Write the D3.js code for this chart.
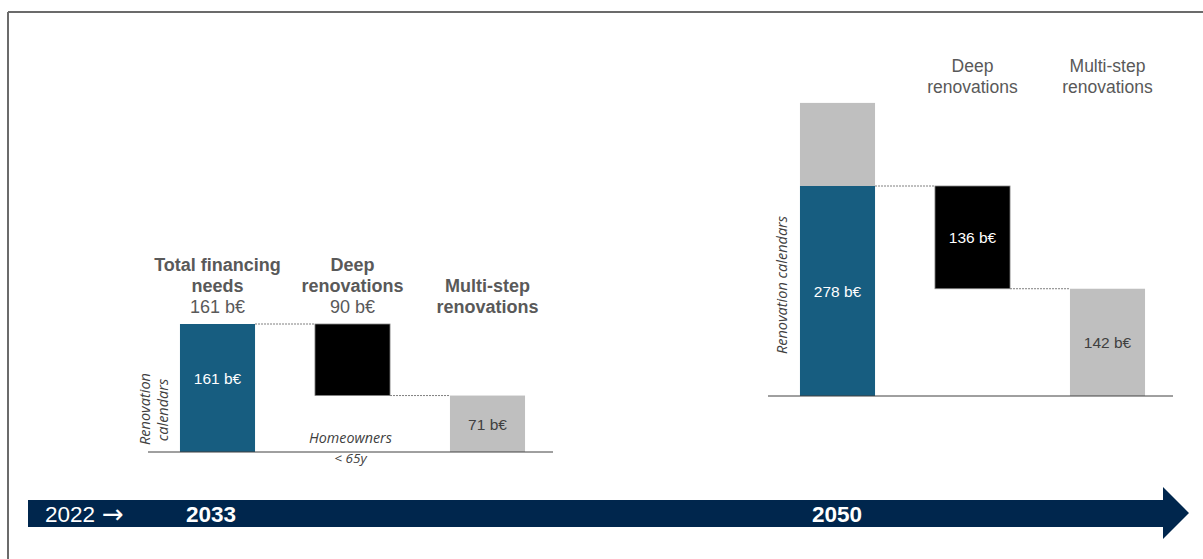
<!DOCTYPE html>
<html>
<head>
<meta charset="utf-8">
<script src="https://cdn.jsdelivr.net/npm/d3@7"></script>
<style>
  body { margin: 0; background: #fff; }
  svg { display: block; font-family: "Liberation Sans", Arial, sans-serif; }
  .ital { font-family: "Open Sans", sans-serif; font-style: italic; }
</style>
</head>
<body>
<svg id="chart" width="1203" height="559"></svg>
<script>
// data
var steps = ["total", "deep", "multi"];
var headers2033 = [["Total financing", "needs", "161 b€"], ["Deep", "renovations", "90 b€"], ["Multi-step", "renovations"]];
var headers2050 = [[], ["Deep", "renovations"], ["Multi-step", "renovations"]];
var values2033 = [161, 90, 71];
var values2050 = [278, 136, 142];
var extraTop2050 = 110; // grey block above the 2050 total, no label
var years = ["2022", "2033", "2050"];

var blue = "#175d80", grey = "#bfbfbf", navy = "#00264d", txt = "#595959";

var svg = d3.select("#chart");

// frame
svg.append("line").attr("x1", 8).attr("x2", 1203).attr("y1", 12).attr("y2", 12)
  .attr("stroke", "#6b6b6b").attr("stroke-width", 2);
svg.append("line").attr("x1", 8).attr("x2", 8).attr("y1", 12).attr("y2", 559)
  .attr("stroke", "#6b6b6b").attr("stroke-width", 2);

function waterfall(opts) {
  var vals = opts.values;
  var total = vals[0];
  var x = d3.scaleBand().domain(steps).range(opts.xr).paddingInner(0.444).paddingOuter(0.222);
  var y = d3.scaleLinear().domain([0, total]).range(opts.yr);
  var g = svg.append("g");

  // start/end of each step of the waterfall
  var segs = [
    { k: "total", lo: 0, hi: total, fill: blue, col: "#fff", v: vals[0] },
    { k: "deep", lo: total - vals[1], hi: total, fill: "#000", col: "#fff", v: vals[1] },
    { k: "multi", lo: 0, hi: vals[2], fill: grey, col: "#404040", v: vals[2] }
  ];

  if (opts.extra) {
    g.append("rect")
      .attr("x", x("total")).attr("width", x.bandwidth())
      .attr("y", y(total + opts.extra)).attr("height", y(total) - y(total + opts.extra))
      .attr("fill", grey);
  }

  g.selectAll("rect.bar").data(segs).enter().append("rect")
    .attr("class", "bar")
    .attr("x", function(d) { return x(d.k); })
    .attr("width", x.bandwidth())
    .attr("y", function(d) { return y(d.hi); })
    .attr("height", function(d) { return y(d.lo) - y(d.hi); })
    .attr("fill", function(d) { return d.fill; })
    .attr("stroke", function(d) { return d.k == "deep" ? "#888" : "none"; })
    .attr("stroke-width", 0.8);

  // connectors
  var conn = [[segs[0], segs[1], total], [segs[1], segs[2], total - vals[1]]];
  g.selectAll("line.conn").data(conn).enter().append("line")
    .attr("x1", function(d) { return x(d[0].k) + x.bandwidth(); })
    .attr("x2", function(d) { return x(d[1].k); })
    .attr("y1", function(d) { return y(d[2]); })
    .attr("y2", function(d) { return y(d[2]); })
    .attr("stroke", "#7f7f7f").attr("stroke-dasharray", "2,1");

  // base line
  g.append("line")
    .attr("x1", opts.xr[0] - 2).attr("x2", opts.xr[1] - 2)
    .attr("y1", y(0)).attr("y2", y(0))
    .attr("stroke", "#404040").attr("stroke-width", 1);

  // labels in bars
  g.selectAll("text.val").data(segs.filter(function(d) { return opts.inside.indexOf(d.k) >= 0; }))
    .enter().append("text")
    .attr("x", function(d) { return x(d.k) + x.bandwidth() / 2; })
    .attr("y", function(d) {
      var m = (y(d.lo) + y(d.hi)) / 2;
      return m + 6 + (d.k == "total" ? opts.totalShift : 0);
    })
    .attr("text-anchor", "middle")
    .attr("font-size", 15.5)
    .attr("fill", function(d) { return d.col; })
    .text(function(d) { return d.v + " b€"; });

  // headers
  opts.headers.forEach(function(lines, i) {
    var t = g.append("text")
      .attr("text-anchor", "middle")
      .attr("fill", txt)
      .attr("font-size", opts.hSize);
    lines.forEach(function(l, j) {
      var isVal = l.indexOf("b€") > 0;
      t.append("tspan")
        .attr("x", x(steps[i]) + x.bandwidth() / 2)
        .attr("y", opts.hTop[i] + j * 21)
        .attr("font-weight", opts.bold && !isVal ? "bold" : "normal")
        .text(l);
    });
  });
  return { x: x, y: y, g: g };
}

var left = waterfall({
  values: values2033, xr: [150, 555], yr: [452, 324],
  headers: headers2033, hTop: [271, 271, 292], hSize: 18, bold: true,
  inside: ["total", "multi"], totalShift: -10
});

var right = waterfall({
  values: values2050, xr: [770, 1175], yr: [396, 186], extra: extraTop2050,
  headers: headers2050, hTop: [72, 72, 72], hSize: 17.5, bold: false,
  inside: ["total", "deep", "multi"], totalShift: 0
});

// rotated side labels
var grey2 = "#404040";
svg.append("text").attr("class", "ital")
  .attr("transform", "translate(150,409) rotate(-90)")
  .attr("text-anchor", "middle").attr("font-size", 14.5).attr("fill", grey2)
  .text("Renovation");
svg.append("text").attr("class", "ital")
  .attr("transform", "translate(168,410) rotate(-90)")
  .attr("text-anchor", "middle").attr("font-size", 14.5).attr("fill", grey2)
  .text("calendars");
svg.append("text").attr("class", "ital")
  .attr("transform", "translate(787,285) rotate(-90)")
  .attr("text-anchor", "middle").attr("font-size", 14.5).attr("fill", grey2)
  .text("Renovation calendars");

var hx = left.x("deep") + left.x.bandwidth() / 2 - 2;
svg.append("text").attr("class", "ital").attr("x", hx).attr("y", 443)
  .attr("text-anchor", "middle").attr("font-size", 14.3).attr("fill", grey2).text("Homeowners");
svg.append("text").attr("class", "ital").attr("x", hx).attr("y", 463)
  .attr("text-anchor", "middle").attr("font-size", 13.5).attr("fill", grey2).text("< 65y");

// timeline arrow
var arrow = d3.path();
arrow.moveTo(28, 500);
arrow.lineTo(1163, 500);
arrow.lineTo(1163, 487);
arrow.lineTo(1189, 513);
arrow.lineTo(1163, 539);
arrow.lineTo(1163, 527);
arrow.lineTo(28, 527);
arrow.closePath();
svg.append("path").attr("d", arrow.toString()).attr("fill", navy);

var yearX = [45, 186, 812];
svg.selectAll("text.year").data(years).enter().append("text")
  .attr("class", "year")
  .attr("x", function(d, i) { return yearX[i]; })
  .attr("y", 522)
  .attr("font-size", 22.5)
  .attr("font-weight", function(d, i) { return i > 0 ? "bold" : "normal"; })
  .attr("fill", "#fff")
  .text(function(d) { return d; });
svg.append("text").attr("x", 102).attr("y", 523)
  .attr("font-family", "DejaVu Sans").attr("font-size", 26).attr("fill", "#fff")
  .text("→");
</script>
</body>
</html>
